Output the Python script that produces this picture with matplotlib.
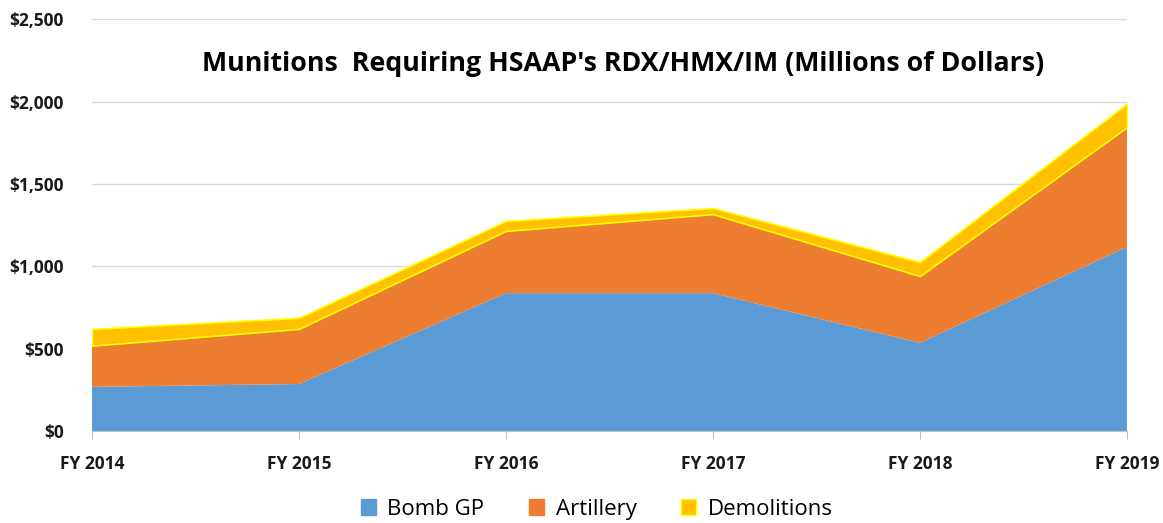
import numpy as np
import matplotlib.pyplot as plt
from matplotlib.ticker import FuncFormatter
from matplotlib.patches import Patch

plt.rcParams['font.family'] = ['Open Sans', 'DejaVu Sans']

years = ['FY 2014', 'FY 2015', 'FY 2016', 'FY 2017', 'FY 2018', 'FY 2019']
bomb_gp = [268, 285, 837, 837, 535, 1118]
artillery = [250, 335, 378, 480, 406, 727]
demolitions = [102, 67, 61, 37, 85, 143]

blue = '#5B9BD5'
orange = '#ED7D31'
gold = '#FFC000'

fig = plt.figure(figsize=(11.63, 5.23), dpi=100)
ax = fig.add_axes([0.079, 0.176, 0.890, 0.787])

x = np.arange(len(years))
ax.stackplot(x, bomb_gp, artillery, colors=[blue, orange], linewidth=0, zorder=2)
base = np.array(bomb_gp) + np.array(artillery)
top = base + np.array(demolitions)
ax.fill_between(x, base, top, color=gold, edgecolor='#FFFF00', linewidth=1.2, zorder=2)

ax.set_xlim(0, len(years) - 1)
ax.set_ylim(0, 2500)
ax.set_yticks(np.arange(0, 2501, 500))
ax.yaxis.set_major_formatter(FuncFormatter(lambda v, p: '${:,.0f}'.format(v)))
ax.grid(axis='y', color='#D9D9D9', linewidth=1, zorder=0)
ax.set_axisbelow(True)

ax.set_xticks(x)
ax.set_xticklabels(years)
for s in ['top', 'right', 'left']:
    ax.spines[s].set_visible(False)
ax.spines['bottom'].set_color('#BFBFBF')
ax.tick_params(axis='y', length=0, pad=20)
ax.tick_params(axis='x', length=6, color='#BFBFBF', pad=11, direction='out')
for lbl in ax.get_xticklabels() + ax.get_yticklabels():
    lbl.set_fontweight('bold')
    lbl.set_fontsize(12.5)
    lbl.set_color('#1a1a1a')

ax.text(0.513, 0.892, "Munitions  Requiring HSAAP's RDX/HMX/IM (Millions of Dollars)",
        transform=ax.transAxes, ha='center', va='center',
        fontsize=19.3, fontweight='bold', color='black')

handles = [Patch(facecolor=blue, edgecolor=blue),
           Patch(facecolor=orange, edgecolor=orange),
           Patch(facecolor=gold, edgecolor='#FFFF00')]
fig.legend(handles, ['Bomb GP', 'Artillery', 'Demolitions'], loc='center',
           bbox_to_anchor=(0.513, 0.026), ncol=3, frameon=False, fontsize=16,
           handlelength=0.7, handleheight=0.7, columnspacing=2.0, handletextpad=0.5)

fig.savefig('out.png', dpi=100)
